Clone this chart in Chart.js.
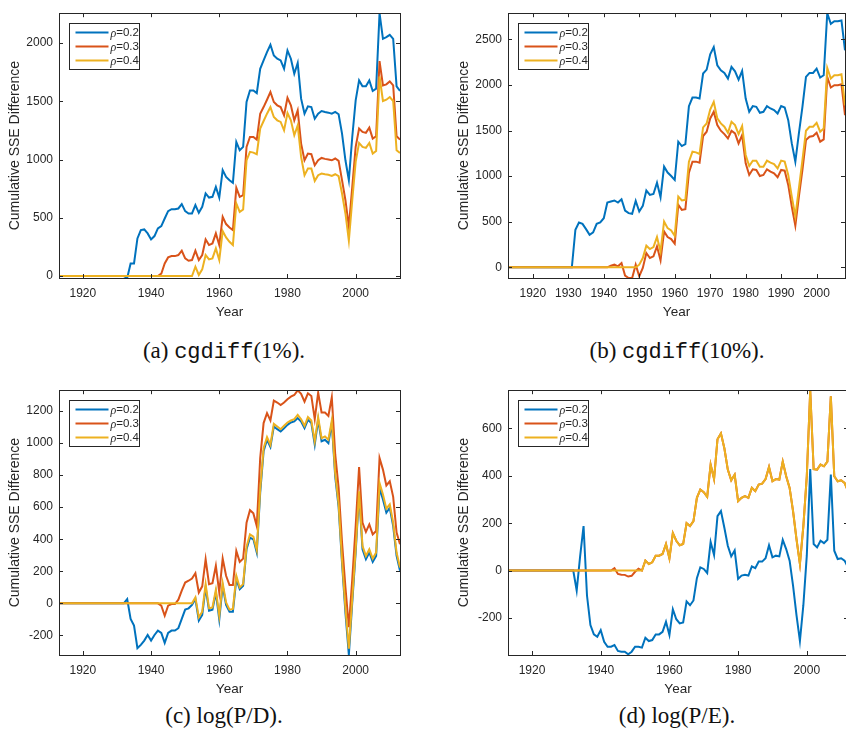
<!DOCTYPE html>
<html>
<head>
<meta charset="utf-8">
<script src="https://cdn.jsdelivr.net/npm/chart.js@4/dist/chart.umd.min.js"></script>
<style>
  html, body { margin: 0; padding: 0; background: #fff; }
  body { width: 846px; height: 737px; overflow: hidden; position: relative; }
  .panel { position: absolute; }
  .cap { position: absolute; transform: translate(-50%, -50%); white-space: nowrap;
         font-family: 'Liberation Serif', 'DejaVu Serif', serif; font-size: 23px; color: #111; }
  .cap .tt { font-family: 'Liberation Mono', 'DejaVu Sans Mono', monospace; font-size: 22px; }
</style>
</head>
<body>
<div class="panel" style="left:0px; top:0px"><canvas id="chartA" width="420" height="323"></canvas></div>
<div class="panel" style="left:449px; top:0px"><canvas id="chartB" width="420" height="323"></canvas></div>
<div class="panel" style="left:0px; top:377px"><canvas id="chartC" width="420" height="323"></canvas></div>
<div class="panel" style="left:449px; top:377px"><canvas id="chartD" width="420" height="323"></canvas></div>

<div class="cap" style="left:224px; top:351px">(a) <span class="tt">cgdiff</span>(1%).</div>
<div class="cap" style="left:677px; top:351px">(b) <span class="tt">cgdiff</span>(10%).</div>
<div class="cap" style="left:224px; top:716px">(c) log(P/D).</div>
<div class="cap" style="left:677px; top:716px">(d) log(P/E).</div>

<script>
// series labels and colours
const rhoLabels = ['0.2', '0.3', '0.4'];
const lineColors = ['#0072BD', '#D95319', '#EDB120'];

// (a) cgdiff(1%), yearly 1913-2013
const firstYearA = 1913;
const a_rho02 = [
  0, 0, 0, 0, 0, 0, 0,
  0, 0, 0, 0, 0, 0, 0, 0, 0, 0,
  0, 0, 0, -17, 108, 108, 323, 394, 400, 366,
  314, 343, 409, 428, 494, 557, 574, 574, 580, 617,
  557, 537, 537, 609, 543, 594, 709, 674, 680, 766,
  674, 909, 851, 823, 800, 1151, 1080, 1109, 1494, 1594,
  1594, 1571, 1780, 1851, 1923, 1986, 1894, 1866, 1851, 1780,
  1937, 1866, 1737, 1829, 1523, 1394, 1457, 1451, 1351, 1394,
  1417, 1409, 1403, 1394, 1409, 1389, 1223, 994, 823, 1194,
  1509, 1680, 1629, 1629, 1680, 1589, 1609, 2257, 2037, 2051,
  2071, 2037, 1629, 1589
];
const a_rho03 = [
  0, 0, 0, 0, 0, 0, 0,
  0, 0, 0, 0, 0, 0, 0, 0, 0, 0,
  0, 0, 0, 0, 0, 0, 0, 0, 0, 0,
  0, 0, 0, 20, 108, 160, 171, 171, 180, 217,
  151, 131, 137, 217, 137, 180, 314, 266, 280, 366,
  266, 509, 446, 417, 394, 757, 680, 694, 1109, 1194,
  1194, 1171, 1394, 1451, 1514, 1580, 1494, 1466, 1451, 1380,
  1531, 1466, 1337, 1423, 1137, 994, 1051, 1046, 951, 994,
  1014, 1006, 1000, 994, 1009, 989, 823, 651, 423, 766,
  1109, 1266, 1237, 1229, 1274, 1180, 1200, 1846, 1637, 1646,
  1671, 1637, 1200, 1171
];
const a_rho04 = [
  0, 0, 0, 0, 0, 0, 0,
  0, 0, 0, 0, 0, 0, 0, 0, 0, 0,
  0, 0, 0, 0, 0, 0, 0, 0, 0, 0,
  0, 0, 0, 0, 0, 0, 0, 0, 0, 0,
  0, 0, 0, 80, 9, 57, 180, 143, 151, 237,
  137, 386, 331, 294, 266, 623, 551, 571, 994, 1066,
  1060, 1046, 1266, 1331, 1394, 1451, 1366, 1337, 1323, 1251,
  1400, 1337, 1209, 1294, 1023, 866, 923, 923, 817, 866,
  880, 874, 869, 860, 874, 857, 709, 537, 303, 651,
  980, 1143, 1109, 1100, 1143, 1051, 1074, 1714, 1503, 1514,
  1537, 1503, 1080, 1057
];

// (b) cgdiff(10%), yearly 1913-2008
const firstYearB = 1913;
const b_rho02 = [
  0, 0, 0, 0, 0, 0, 0,
  0, 0, 0, 0, 0, 0, 0, 0, 0, 0,
  0, 0, 412, 492, 477, 419, 357, 383, 477, 492,
  539, 711, 722, 733, 711, 747, 623, 594, 587, 729,
  612, 674, 842, 794, 805, 929, 769, 1104, 1039, 1002,
  958, 1378, 1330, 1352, 1767, 1862, 1862, 1851, 2125, 2168,
  2336, 2416, 2216, 2161, 2132, 2070, 2198, 2150, 2059, 2154,
  1851, 1706, 1768, 1760, 1695, 1706, 1768, 1742, 1724, 1687,
  1768, 1753, 1614, 1359, 1159, 1469, 1760, 2088, 2132, 2132,
  2179, 2081, 2106, 2787, 2671, 2700, 2700, 2708, 2380
];
const b_rho03 = [
  0, 0, 0, 0, 0, 0, 0,
  0, 0, 0, 0, 0, 0, 0, 0, 0, 0,
  0, 0, 0, 0, 0, 0, 0, 0, 0, 0,
  0, 0, 18, 29, 11, 47, -91, -117, -117, 29,
  -98, -7, 157, 102, 120, 230, 77, 394, 332, 310,
  259, 685, 630, 638, 1039, 1159, 1159, 1148, 1440, 1487,
  1633, 1706, 1560, 1498, 1461, 1414, 1498, 1469, 1359, 1450,
  1141, 1013, 1075, 1068, 1002, 1013, 1075, 1050, 1031, 988,
  1068, 1060, 904, 667, 456, 776, 1068, 1396, 1432, 1440,
  1476, 1378, 1403, 2088, 1972, 1997, 1997, 2008, 1669
];
const b_rho04 = [
  0, 0, 0, 0, 0, 0, 0,
  0, 0, 0, 0, 0, 0, 0, 0, 0, 0,
  0, 0, 0, 0, 0, 0, 0, 0, 0, 0,
  0, 0, 0, 0, 0, 0, 0, 0, 0, 0,
  29, 102, 237, 200, 222, 332, 175, 503, 430, 404,
  346, 776, 733, 740, 1159, 1268, 1261, 1243, 1534, 1578,
  1731, 1815, 1633, 1578, 1542, 1476, 1596, 1560, 1461, 1549,
  1232, 1112, 1170, 1170, 1104, 1104, 1170, 1148, 1133, 1086,
  1170, 1159, 1013, 776, 558, 867, 1177, 1498, 1542, 1542,
  1585, 1487, 1523, 2187, 2070, 2106, 2106, 2117, 1778
];

// (c) log(P/D), yearly 1913-2013
const firstYearC = 1913;
const c_rho02 = [
  0, 0, 0, 0, 0, 0, 0,
  0, 0, 0, 0, 0, 0, 0, 0, 0, 0,
  0, 0, 0, 27, -97, -139, -279, -259, -232, -197,
  -232, -197, -170, -184, -246, -184, -170, -170, -155, -97,
  -39, -31, -10, 27, -108, -72, 99, -46, -39, 68,
  -101, 110, -10, -52, -52, 151, 89, 110, 337, 410,
  399, 317, 689, 948, 1020, 975, 1103, 1086, 1072, 1092,
  1113, 1128, 1134, 1155, 1134, 1092, 1144, 1124, 989, 1144,
  1010, 1020, 999, 1124, 790, 600, 250, -60, -321, 6,
  317, 689, 337, 275, 317, 259, 296, 720, 648, 565,
  596, 482, 296, 203
];
const c_rho03 = [
  0, 0, 0, 0, 0, 0, 0,
  0, 0, 0, 0, 0, 0, 0, 0, 0, 0,
  0, 0, 0, 0, 0, 0, 0, 0, 0, 0,
  0, 0, 0, -14, -77, -14, -4, -4, 23, 79,
  130, 141, 155, 188, 68, 106, 275, 120, 126, 234,
  68, 279, 172, 114, 114, 327, 259, 279, 503, 581,
  561, 482, 906, 1124, 1186, 1140, 1264, 1252, 1237, 1252,
  1273, 1289, 1299, 1328, 1306, 1258, 1310, 1293, 1148, 1314,
  1190, 1190, 1169, 1285, 930, 720, 380, 100, -149, 151,
  482, 850, 503, 445, 492, 430, 451, 906, 834, 735,
  761, 664, 441, 368
];
const c_rho04 = [
  0, 0, 0, 0, 0, 0, 0,
  0, 0, 0, 0, 0, 0, 0, 0, 0, 0,
  0, 0, 0, 0, 0, 0, 0, 0, 0, 0,
  0, 0, 0, 0, 0, 0, 0, 0, 0, 0,
  0, 0, 0, 37, -87, -52, 120, -31, -25, 85,
  -77, 126, 6, -39, -35, 172, 99, 120, 354, 430,
  416, 333, 710, 968, 1037, 989, 1119, 1103, 1086, 1107,
  1128, 1140, 1148, 1175, 1148, 1107, 1161, 1140, 1010, 1161,
  1030, 1041, 1020, 1140, 810, 620, 270, -30, -283, 27,
  337, 699, 358, 296, 337, 279, 317, 751, 679, 590,
  617, 503, 317, 223
];

// (d) log(P/E), yearly 1913-2012
const firstYearD = 1913;
const d_rho02 = [
  0, 0, 0, 0, 0, 0, 0,
  0, 0, 0, 0, 0, 0, 0, 0, 0, 0,
  0, 0, 0, -84, 60, 188, -105, -230, -269, -279,
  -251, -300, -321, -321, -314, -339, -342, -342, -353, -342,
  -321, -321, -325, -283, -297, -293, -269, -269, -258, -216,
  -272, -163, -205, -223, -219, -130, -146, -126, -32, 14,
  7, -10, 121, 66, 230, 251, 181, 105, 60, 85,
  -35, -21, -18, -21, 18, 10, 38, 38, 52, 107,
  56, 63, 60, 130, 91, 42, -63, -188, -297, -146,
  63, 428, 112, 98, 126, 116, 130, 405, 84, 49,
  52, 42, 14
];
const d_rho03 = [
  0, 0, 0, 0, 0, 0, 0,
  0, 0, 0, 0, 0, 0, 0, 0, 0, 0,
  0, 0, 0, 0, 0, 0, 0, 0, 0, 0,
  0, 0, 0, 0, 10, -14, -17, -18, -25, -22,
  -5, 8, 0, 42, 28, 35, 63, 63, 70, 112,
  52, 158, 126, 107, 112, 200, 188, 209, 307, 342,
  331, 311, 447, 386, 554, 579, 516, 426, 381, 405,
  293, 307, 314, 307, 349, 335, 363, 367, 386, 437,
  377, 386, 384, 460, 398, 349, 251, 133, 28, 188,
  398, 760, 428, 426, 447, 440, 460, 735, 398, 377,
  381, 370, 335
];
const d_rho04 = [
  0, 0, 0, 0, 0, 0, 0,
  0, 0, 0, 0, 0, 0, 0, 0, 0, 0,
  0, 0, 0, 0, 0, 0, 0, 0, 0, 0,
  0, 0, 0, 0, 0, 0, 0, 0, 0, 0,
  0, 0, 0, 42, 28, 35, 63, 63, 70, 112,
  52, 158, 126, 107, 112, 200, 188, 209, 307, 342,
  331, 311, 447, 386, 554, 579, 516, 426, 381, 405,
  293, 307, 314, 307, 349, 335, 363, 367, 386, 437,
  377, 386, 384, 460, 398, 349, 251, 133, 28, 188,
  398, 760, 428, 426, 447, 440, 460, 735, 398, 377,
  381, 370, 335
];

// tick labels
const xTicks20 = [1920, 1940, 1960, 1980, 2000];
const xTicks10 = [1920, 1930, 1940, 1950, 1960, 1970, 1980, 1990, 2000];
const yTicksA = [0, 500, 1000, 1500, 2000];
const yTicksB = [0, 500, 1000, 1500, 2000, 2500];
const yTicksC = [-200, 0, 200, 400, 600, 800, 1000, 1200];
const yTicksD = [-200, 0, 200, 400, 600];

Chart.defaults.font.family = "'Liberation Sans', Arial, sans-serif";
Chart.defaults.color = '#262626';

// box, inward ticks and a boxed legend like the original figure
const matlabAxes = {
  id: 'matlabAxes',
  afterDatasetsDraw(chart) {
    const { ctx, chartArea: a, scales: { x, y } } = chart;
    ctx.save();
    ctx.strokeStyle = '#262626';
    ctx.lineWidth = 1;
    ctx.beginPath();
    x.ticks.forEach(t => {
      const px = Math.round(x.getPixelForValue(t.value)) + 0.5;
      ctx.moveTo(px, a.bottom); ctx.lineTo(px, a.bottom - 4);
      ctx.moveTo(px, a.top); ctx.lineTo(px, a.top + 4);
    });
    y.ticks.forEach(t => {
      const py = Math.round(y.getPixelForValue(t.value)) + 0.5;
      ctx.moveTo(a.left, py); ctx.lineTo(a.left + 4, py);
      ctx.moveTo(a.right, py); ctx.lineTo(a.right - 4, py);
    });
    ctx.stroke();
    ctx.strokeRect(Math.round(a.left) + 0.5, Math.round(a.top) + 0.5,
                   Math.round(a.right - a.left), Math.round(a.bottom - a.top));

    // legend
    const lx = Math.round(a.left) + 10.5, ly = Math.round(a.top) + 10.5;
    ctx.fillStyle = '#fff';
    ctx.fillRect(lx, ly, 70, 46);
    ctx.strokeRect(lx, ly, 70, 46);
    chart.data.datasets.forEach((ds, i) => {
      const ry = ly + 9 + i * 14;
      ctx.strokeStyle = ds.borderColor;
      ctx.lineWidth = 2;
      ctx.beginPath();
      ctx.moveTo(lx + 6, ry); ctx.lineTo(lx + 39, ry);
      ctx.stroke();
      ctx.fillStyle = '#262626';
      ctx.textBaseline = 'middle';
      ctx.font = "italic 12px 'Liberation Serif', serif";
      ctx.fillText('\u03C1', lx + 41, ry + 1);
      const w = ctx.measureText('\u03C1').width;
      ctx.font = "11.5px 'Liberation Sans', Arial, sans-serif";
      ctx.fillText('=' + ds.rho, lx + 41 + w, ry);
    });
    ctx.restore();
  }
};

function makeChart(id, firstYear, series, xMax, xTicks, yMin, yMax, yTicks, padRight) {
  const datasets = series.map((vals, i) => ({
    rho: rhoLabels[i],
    label: '\u03C1=' + rhoLabels[i],
    data: vals.map((v, k) => ({ x: firstYear + k, y: v })),
    borderColor: lineColors[i],
    borderWidth: 2,
    pointRadius: 0,
    tension: 0,
    order: 2 - i
  }));
  return new Chart(document.getElementById(id), {
    type: 'line',
    data: { datasets: datasets },
    options: {
      responsive: false,
      animation: false,
      devicePixelRatio: 1,
      layout: { padding: { top: 13, right: padRight, left: 0, bottom: 0 } },
      plugins: { legend: { display: false }, tooltip: { enabled: false } },
      scales: {
        x: {
          type: 'linear',
          min: firstYear,
          max: xMax,
          afterBuildTicks: s => { s.ticks = xTicks.map(v => ({ value: v })); },
          afterFit: s => { s.height = 45; },
          grid: { display: false, drawTicks: false },
          border: { display: false },
          ticks: { autoSkip: false, maxRotation: 0, padding: 8, font: { size: 12 },
                   callback: v => String(v) },
          title: { display: true, text: 'Year', font: { size: 13.5 },
                   padding: { top: 0, bottom: 3 } }
        },
        y: {
          min: yMin,
          max: yMax,
          afterBuildTicks: s => { s.ticks = yTicks.map(v => ({ value: v })); },
          afterFit: s => { s.width = 59; },
          grid: { display: false, drawTicks: false },
          border: { display: false },
          ticks: { padding: 6, font: { size: 12 }, callback: v => String(v) },
          title: { display: true, text: 'Cumulative SSE Difference', font: { size: 14 },
                   padding: { top: 6.5, bottom: 0 } }
        }
      }
    },
    plugins: [matlabAxes]
  });
}

makeChart('chartA', firstYearA, [a_rho02, a_rho03, a_rho04], 2013, xTicks20, -17, 2257, yTicksA, 20);
makeChart('chartB', firstYearB, [b_rho02, b_rho03, b_rho04], 2008, xTicks10, -117, 2787, yTicksB, 24);
makeChart('chartC', firstYearC, [c_rho02, c_rho03, c_rho04], 2013, xTicks20, -322, 1329, yTicksC, 20);
makeChart('chartD', firstYearD, [d_rho02, d_rho03, d_rho04], 2012, xTicks20, -356, 761, yTicksD, 21);
</script>
</body>
</html>
